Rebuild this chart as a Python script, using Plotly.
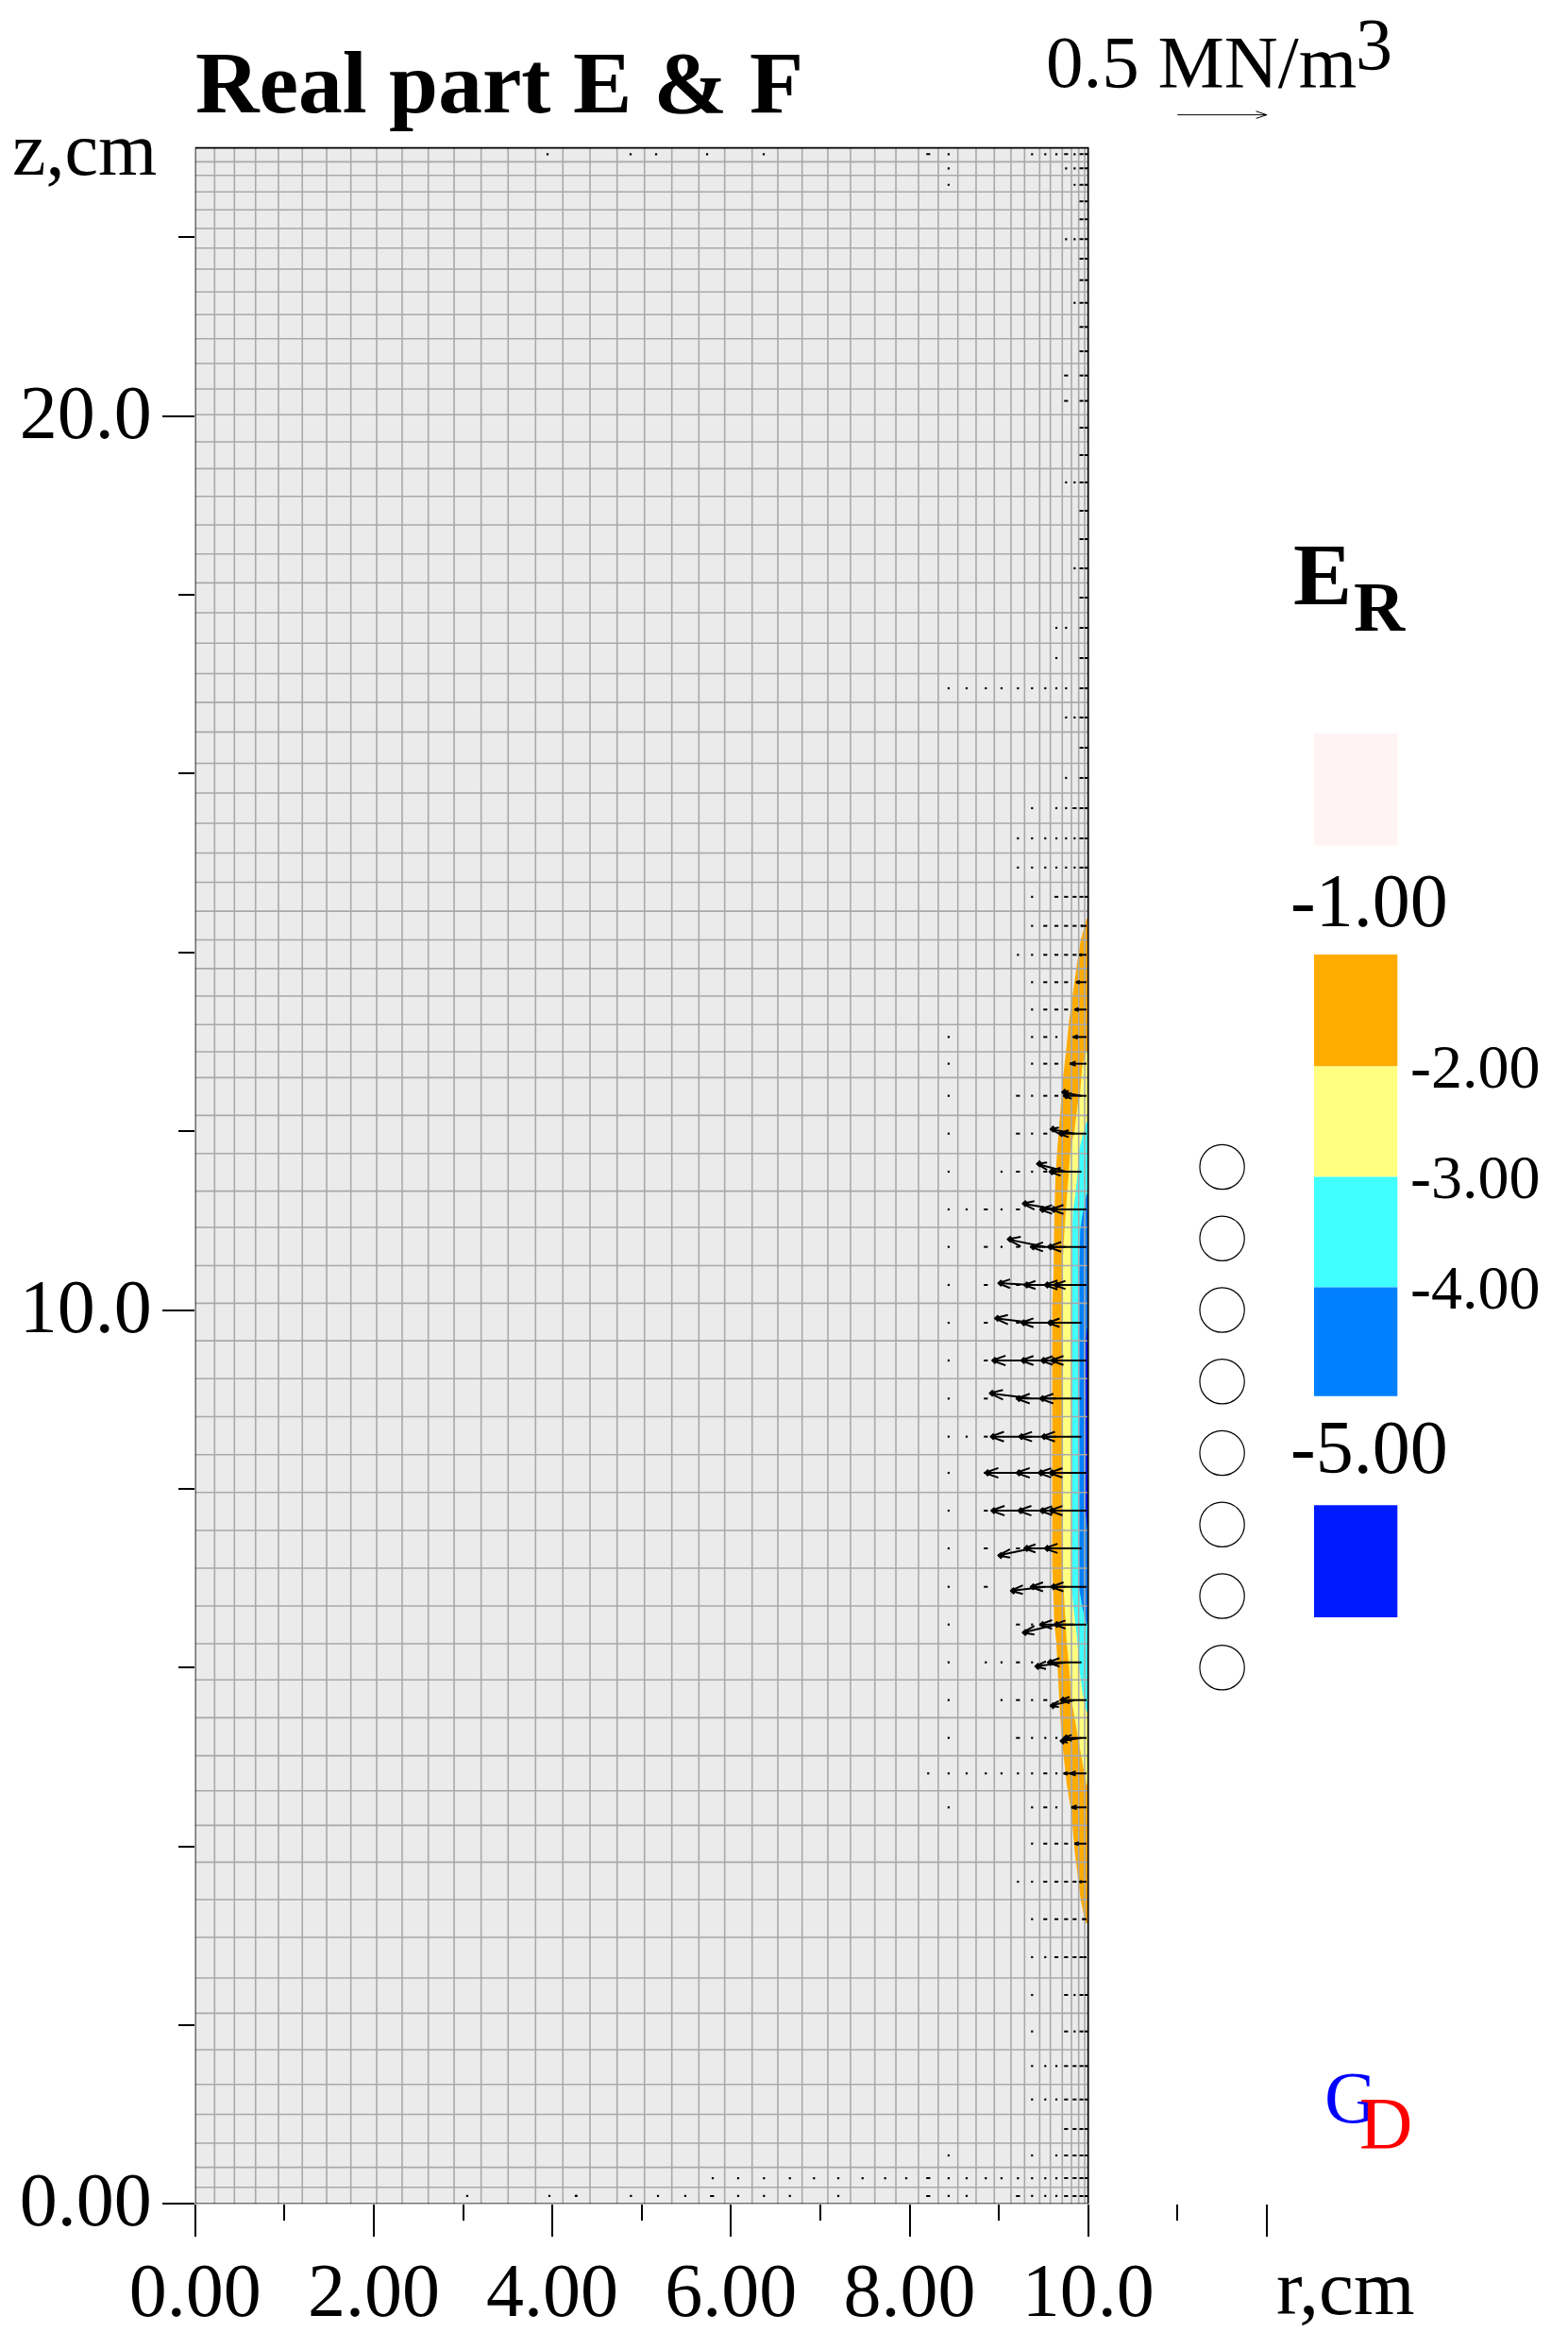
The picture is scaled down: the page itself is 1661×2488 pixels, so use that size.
import plotly.graph_objects as go

# ---------- data ----------
r_grid = [0.218,0.44,0.677,0.933,1.20,1.473,1.744,2.033,2.318,2.611,2.90,3.203,3.505,3.812,4.118,4.422,4.725,5.032,
          5.338,5.641,5.930,6.237,6.525,6.797,7.085,7.339,7.611,7.847,8.100,8.322,8.541,8.745,8.949,9.136,9.288,
          9.457,9.577,9.710,9.813,9.894,9.961]
z_grid = [0.186,0.408,0.679,1.001,1.337,1.725,2.133,2.527,2.982,3.404,3.823,4.235,4.622,5.013,5.439,5.862,6.266,
          6.689,7.111,7.534,7.959,8.382,8.806,9.231,9.655,10.075,10.497,10.924,11.329,11.751,12.177,12.600,12.889,
          13.192,13.512,13.819,14.141,14.461,14.784,15.112,15.445,15.783,16.116,16.465,16.798,17.118,17.460,17.800,
          18.134,18.458,18.782,19.101,19.412,19.711,20.016,20.303,20.588,20.866,21.135,21.388,21.644,21.880,22.098,
          22.307,22.508,22.693,22.845]

# Field bands: boundary of each level against the wall r = 10
level1_z = [14.378,14.272,14.146,13.861,13.502,13.217,12.900,12.582,12.223,11.800,11.452,10.924,10.396,10.047,7.122,
            6.879,6.520,6.277,5.855,5.432,5.010,4.693,4.376,3.954,3.668,3.394,3.140]
level1_r = [9.982,9.954,9.918,9.873,9.823,9.784,9.753,9.717,9.689,9.654,9.633,9.619,9.612,9.598,9.598,
            9.608,9.619,9.644,9.665,9.689,9.725,9.760,9.813,9.848,9.883,9.918,9.971]
level2_z = [12.900,12.752,12.403,12.297,12.012,11.800,11.452,11.103,10.744,10.396,7.048,6.879,6.594,6.277,5.992,5.643,
            5.295,4.936,4.693]
level2_r = [9.982,9.936,9.908,9.883,9.848,9.802,9.777,9.749,9.725,9.710,9.710,9.725,9.742,9.760,9.788,9.813,
            9.873,9.936,9.982]
level3_z = [12.107,11.948,11.800,11.452,11.272,11.103,10.744,6.879,6.668,6.351,5.992,5.717,5.506]
level3_r = [9.982,9.936,9.901,9.873,9.855,9.830,9.816,9.816,9.837,9.873,9.901,9.936,9.982]
level4_z = [11.293,11.061,10.892,10.396,6.879,6.668,6.488]
level4_r = [9.982,9.936,9.911,9.901,9.901,9.936,9.982]
level5_z = [9.794,9.657,7.755,7.576]
level5_r = [9.989,9.971,9.971,9.989]
band_colors = ["#FFAB00", "#FFFF80", "#40FFFF", "#0080FF", "#001AFF"]

# Force vectors: z of row, tail r, tip r, tip z offset
arrows = [
 (14.297,9.982,9.918,0),(13.973,9.982,9.901,0),(13.667,9.982,9.865,0),(13.361,9.982,9.848,0),
 (13.054,9.982,9.830,0),(12.755,9.982,9.795,0),
 (12.396,9.925,9.707,.04),(12.396,9.982,9.725,0),
 (11.973,9.848,9.577,.05),(11.973,9.982,9.672,0),
 (11.547,9.753,9.425,.088),(11.547,9.925,9.566,0),
 (11.125,9.644,9.266,.065),(11.125,9.848,9.460,0),(11.125,9.982,9.584,0),
 (10.706,9.520,9.097,.085),(10.706,9.753,9.355,0),(10.706,9.982,9.548,0),
 (10.280,9.372,8.992,.02),(10.280,9.644,9.284,0),(10.280,9.925,9.513,0),(10.280,9.982,9.619,0),
 (9.857,9.372,8.956,.05),(9.857,9.644,9.249,0),(9.857,9.925,9.548,0),
 (9.435,9.372,8.925,0),(9.435,9.644,9.249,0),(9.435,9.848,9.471,0),(9.435,9.982,9.584,0),
 (9.009,9.372,8.896,.06),(9.009,9.644,9.196,0),(9.009,9.925,9.460,0),
 (8.583,9.372,8.907,0),(8.583,9.644,9.224,0),(8.583,9.925,9.478,0),
 (8.178,9.372,8.844,0),(8.178,9.644,9.196,0),(8.178,9.848,9.443,0),(8.178,9.982,9.566,0),
 (7.755,9.372,8.914,0),(7.755,9.644,9.214,0),(7.755,9.848,9.460,0),(7.755,9.982,9.566,0),
 (7.333,9.372,8.992,-.08),(7.333,9.644,9.284,0),(7.333,9.925,9.513,0),
 (6.903,9.520,9.133,-.045),(6.903,9.753,9.355,0),(6.903,9.982,9.584,0),
 (6.481,9.644,9.266,-.09),(6.481,9.848,9.460,0),(6.481,9.982,9.619,0),
 (6.058,9.753,9.407,-.045),(6.058,9.925,9.548,0),
 (5.636,9.848,9.577,-.063),(5.636,9.982,9.689,0),
 (5.213,9.925,9.689,-.035),(5.213,9.982,9.725,0),
 (4.816,9.848,9.725,0),(4.816,9.982,9.795,0),
 (4.436,9.982,9.813,0),(4.030,9.982,9.848,0),(3.604,9.982,9.901,0),(3.185,9.982,9.936,0),(2.760,9.982,9.954,0),
]

# Very short vectors, drawn as dots and dashes in cell columns
small_r = [7.963,8.209,8.438,8.639,8.854,9.030,9.214,9.372,9.520,9.644,9.753,9.848,9.925,9.982]
small_rows = [
 (22.930,[2,7,8,9,11],[1,10,12,13]),(22.771,[2,10,11],[12,13]),(22.587,[2,11],[12,13]),(22.401,[],[12,13]),
 (22.201,[],[12,13]),(21.979,[10,11],[12,13]),(21.760,[],[12,13]),(21.521,[],[12,13]),(21.267,[11],[12,13]),
 (20.997,[],[12,13]),(20.725,[],[12,13]),(20.454,[],[10,12,13]),(20.170,[],[10,12,13]),(19.870,[],[12,13]),
 (19.564,[],[12,13]),(19.258,[10,11],[12,13]),(18.941,[],[12,13]),(18.624,[],[12,13]),(18.297,[11],[12,13]),
 (17.969,[],[12,13]),(17.631,[9,10],[12,13]),(17.293,[9],[12,13]),(16.955,[2,3,4,5,6,7,8,9,10],[12,13]),
 (16.628,[10,11],[12,13]),(16.290,[],[12,13]),(15.952,[10],[12,13]),(15.614,[7,9,10],[11,12,13]),
 (15.276,[6,7,8,9,10,11],[12,13]),(14.949,[6,7,8,9,10,11],[12,13]),(14.622,[7],[9,10,11,12,13]),
 (14.297,[7],[8,9,10,11]),(13.973,[6,7],[8,9,10,11]),(13.667,[7],[8,9,10]),(13.361,[7],[8,9,10]),
 (13.054,[2,7,9],[8]),(12.755,[2,7],[8,9]),(12.396,[2,7],[6,8,9]),(11.973,[2,7],[6,8]),(11.547,[2,5,7],[6,8]),
 (11.125,[2,3,5],[4,6]),(10.706,[2,5],[4,6]),(10.280,[2],[4,6]),(9.857,[2],[4,6]),(9.435,[2],[4]),(9.009,[2],[4]),
 (8.583,[2,3],[4]),(8.178,[2],[4]),(7.755,[2],[4]),(7.333,[2],[4,6]),(6.903,[2],[4]),(6.481,[2,7],[6]),
 (6.058,[2,4,5,7],[6]),(5.636,[2,5,7],[6,8]),(5.213,[2,7,8,9],[6]),(4.816,[1,2,3,4,5,6,7,9],[8]),
 (4.436,[2,7,9],[8]),(4.030,[7],[8,9,10]),(3.604,[6,7],[8,9,10,11]),(3.185,[7],[8,9,10,11]),
 (2.760,[7,8],[9,10,11,12]),(2.337,[7,11],[10,12,13]),(1.929,[7,11],[10,12,13]),(1.542,[7,8,9],[10,11,12,13]),
 (1.168,[7,8,9],[10,11,12,13]),(0.838,[],[10,11,12,13]),(0.542,[2,7,9],[10,11,12,13]),
 (0.288,[0,2,3,4,5,6,7,8,9],[1,10,11,12,13]),(0.088,[2,3,7,8,9],[1,6,10,11,12,13]),
]
extra_dots_r = [3.946,4.876,5.162,5.733,6.367,
                5.796,6.081,6.370,6.660,6.930,7.202,7.474,7.727,
                3.047,3.967,4.27,4.263,4.880,5.183,5.489,6.081,6.370,6.660,7.202]
extra_dots_z = [22.930]*5 + [0.288]*8 + [0.088]*11
extra_dash_r = [5.789]
extra_dash_z = [0.088]

coil_r = 11.5
coil_radius = 0.25
coil_z = [11.6, 10.8, 10.0, 9.2, 8.4, 7.6, 6.8, 6.0]

x_major = [0, 2, 4, 6, 8, 10, 12]
x_major_text = ["0.00", "2.00", "4.00", "6.00", "8.00", "10.0", ""]
x_minor = [1, 3, 5, 7, 9, 11]
y_major = [0, 10, 20]
y_major_text = ["0.00", "10.0", "20.0"]
y_minor = [2, 4, 6, 8, 12, 14, 16, 18, 22]

# Scale arrow (0.5 MN/m^3)
scale_tail = (11.0, 23.37)
scale_tip = (12.0, 23.37)

# Legend swatches: pixel top, bottom, colour
swatch_top = [777, 1011, 1129.5, 1246.4, 1363.5, 1594.3]
swatch_bottom = [895.6, 1129.5, 1246.4, 1363.5, 1478.7, 1713]
swatch_color = ["#FFF3F3", "#FFAB00", "#FFFF80", "#40FFFF", "#0080FF", "#001AFF"]

# ---------- layout constants ----------
W, H = 1661, 2488
X0, PX_X = 206.7, 94.6
Y0, PX_Y = 2334.3, 94.68
R_MAX, Z_MAX = 13, 24
SERIF = "Liberation Serif"


def fx(p):
    return p / W


def fy(p):
    return 1 - p / H


fig = go.Figure()

# background of the computation region
fig.add_shape(type="rect", x0=0, x1=10, y0=0, y1=23, fillcolor="#EBEBEB", line_width=0, layer="below")

# field bands
for rs, zs, c in zip([level1_r, level2_r, level3_r, level4_r, level5_r],
                     [level1_z, level2_z, level3_z, level4_z, level5_z], band_colors):
    fig.add_trace(go.Scatter(x=[10] + rs + [10], y=[zs[0]] + zs + [zs[-1]], mode="none", fill="toself",
                             fillcolor=c, hoverinfo="skip"))

# mesh
gx, gy = [], []
for r in r_grid:
    gx += [r, r, None]
    gy += [0, 23, None]
for z in z_grid:
    gx += [0, 10, None]
    gy += [z, z, None]
fig.add_trace(go.Scatter(x=gx, y=gy, mode="lines", line=dict(color="#A9A9A9", width=1.6), hoverinfo="skip"))

# small vectors
dx, dy, hx, hy = list(extra_dots_r), list(extra_dots_z), list(extra_dash_r), list(extra_dash_z)
for z, dots, dashes in small_rows:
    dx += [small_r[i] for i in dots]
    dy += [z] * len(dots)
    hx += [small_r[i] for i in dashes]
    hy += [z] * len(dashes)
fig.add_trace(go.Scatter(x=dx, y=dy, mode="markers", marker=dict(symbol="square", size=2.2, color="black", line_width=0)))
fig.add_trace(go.Scatter(x=hx, y=hy, mode="markers",
                         marker=dict(symbol="line-ew", size=3, line=dict(color="black", width=2))))

# vectors with barbs
ax, ay = [], []


def add_arrow(tail_r, tail_z, tip_r, tip_z, barb_len):
    ax.extend([tail_r, tip_r, None, tip_r + barb_len, tip_r, tip_r + barb_len, None])
    ay.extend([tail_z, tip_z, None, tip_z + barb_len * 0.36 + (tail_z - tip_z) * .3, tip_z,
               tip_z - barb_len * 0.36 + (tail_z - tip_z) * .3, None])


for z, tail, tip, dz in arrows:
    add_arrow(tail, z, tip, z + dz, min(0.15, (tail - tip) * 0.35))
fig.add_trace(go.Scatter(x=ax, y=ay, mode="lines", line=dict(color="black", width=2), hoverinfo="skip"))
long_arrows = [a for a in arrows if a[1] - a[2] > 0.2]
fig.add_trace(go.Scatter(x=[a[2] + 0.03 for a in long_arrows], y=[a[0] + a[3] for a in long_arrows], mode="markers",
                         marker=dict(symbol="diamond", size=6, color="black", line_width=0), hoverinfo="skip"))

# scale arrow (points right)
fig.add_trace(go.Scatter(
    x=[scale_tail[0], scale_tip[0], None, scale_tip[0] - 0.12, scale_tip[0], scale_tip[0] - 0.12],
    y=[scale_tail[1], scale_tip[1], None, scale_tip[1] + 0.04, scale_tip[1], scale_tip[1] - 0.04],
    mode="lines", line=dict(color="black", width=1), hoverinfo="skip"))

# frame of the region
fig.add_trace(go.Scatter(x=[0, 10, 10, 0, 0], y=[0, 0, 23, 23, 0], mode="lines",
                         line=dict(color="black", width=1.7), hoverinfo="skip"))

# coil
for z in coil_z:
    fig.add_shape(type="circle", x0=coil_r - coil_radius, x1=coil_r + coil_radius,
                  y0=z - coil_radius, y1=z + coil_radius, line=dict(color="black", width=1.2))

# legend swatches
for t, b, c in zip(swatch_top, swatch_bottom, swatch_color):
    fig.add_shape(type="rect", xref="paper", yref="paper", x0=fx(1392), x1=fx(1480.3), y0=fy(b), y1=fy(t),
                  fillcolor=c, line_width=0)

texts = [
    ("Real part E &amp; F", 207, 87, 93.5, "black", True, "left"),
    ("z,cm", 13, 158, 80, "black", False, "left"),
    ("0.5 MN/m", 1108, 65, 79, "black", False, "left"),
    ("3", 1436, 47, 78, "black", False, "left"),
    ("E", 1370, 608, 93, "black", True, "left"),
    ("R", 1434, 642, 75, "black", True, "left"),
    ("-1.00", 1367, 954, 80, "black", False, "left"),
    ("-2.00", 1494, 1129, 66, "black", False, "left"),
    ("-3.00", 1494, 1246.6, 66, "black", False, "left"),
    ("-4.00", 1494, 1363, 66, "black", False, "left"),
    ("-5.00", 1367, 1533, 80, "black", False, "left"),
    ("r,cm", 1352, 2423, 83, "black", False, "left"),
    ("G", 1403, 2221, 78, "#0000FF", False, "left"),
    ("D", 1440, 2248, 78, "#FF0000", False, "left"),
]
for s, x, y, size, col, bold, anch in texts:
    fig.add_annotation(text=f"<b>{s}</b>" if bold else s, x=fx(x), y=fy(y), xref="paper", yref="paper",
                       xanchor=anch, yanchor="middle", showarrow=False, borderpad=0, borderwidth=0,
                       font=dict(family=SERIF, size=size, color=col))

fig.update_layout(
    width=W, height=H, autosize=False, margin=dict(l=0, r=0, t=0, b=0, pad=0),
    paper_bgcolor="white", plot_bgcolor="white", showlegend=False,
    xaxis=dict(domain=[fx(X0), fx(X0 + R_MAX * PX_X)], range=[0, R_MAX], showgrid=False, zeroline=False,
               automargin=False, showline=False, tickmode="array", tickvals=x_major, ticktext=x_major_text,
               ticks="outside", ticklen=34, tickwidth=1.5, tickcolor="black", ticklabelstandoff=-12,
               minor=dict(tickmode="array", tickvals=x_minor, ticks="outside", ticklen=17, tickwidth=1.5,
                          tickcolor="black", showgrid=False),
               tickfont=dict(family=SERIF, size=80, color="black")),
    yaxis=dict(domain=[1 - Y0 / H, 1 - (Y0 - Z_MAX * PX_Y) / H], range=[0, Z_MAX], showgrid=False, zeroline=False,
               automargin=False, showline=False, tickmode="array", tickvals=y_major, ticktext=y_major_text,
               ticks="outside", ticklen=34, tickwidth=1.5, tickcolor="black", ticklabelstandoff=-5,
               ticklabelshift=-5,
               minor=dict(tickmode="array", tickvals=y_minor, ticks="outside", ticklen=17, tickwidth=1.5,
                          tickcolor="black", showgrid=False),
               tickfont=dict(family=SERIF, size=80, color="black")),
)

fig.write_html("out.html", config={"displayModeBar": False}, post_script="document.body.style.margin='0';")
